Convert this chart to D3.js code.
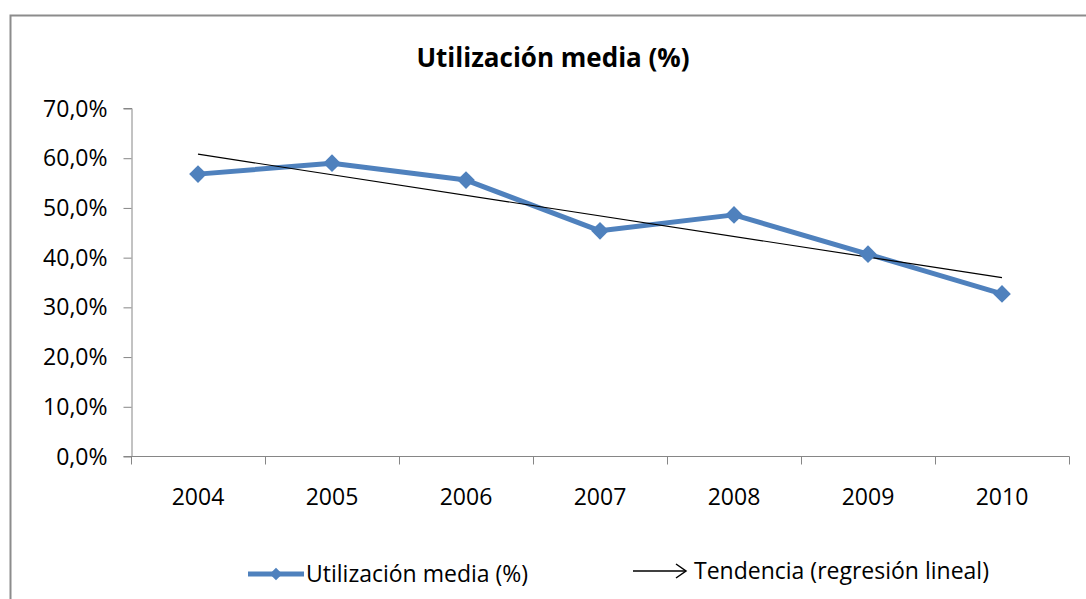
<!DOCTYPE html>
<html>
<head>
<meta charset="utf-8">
<script src="https://cdn.jsdelivr.net/npm/d3@7"></script>
<style>
  body { margin: 0; background: #fff; }
  text { font-family: "Open Sans", sans-serif; fill: #000; }
</style>
</head>
<body>
<div id="chart"></div>
<script>
// ---- data ----
var years = ["2004", "2005", "2006", "2007", "2008", "2009", "2010"];
var utilizacion = [0.567, 0.589, 0.555, 0.453, 0.485, 0.406, 0.326];
var yTicks = [0, 0.1, 0.2, 0.3, 0.4, 0.5, 0.6, 0.7];
var seriesName = "Utilización media (%)";
var trendName = "Tendencia (regresión lineal)";
var titleText = "Utilización media (%)";

var W = 1086, H = 599;
var blue = "#4f81bd", axisGrey = "#868686";

var svg = d3.select("#chart").append("svg")
  .attr("width", W).attr("height", H);

// chart frame (right / bottom edges are cut off in the original)
svg.append("rect")
  .attr("x", 10.5).attr("y", 15.5)
  .attr("width", W + 20).attr("height", H + 20)
  .attr("fill", "#fff").attr("stroke", "#8c8c8c").attr("stroke-width", 2);

svg.append("text")
  .attr("x", 553).attr("y", 67)
  .attr("text-anchor", "middle")
  .style("font-size", "26px").style("font-weight", "bold")
  .text(titleText);

var x = d3.scaleBand().domain(years).range([131, 1069]).padding(0);
var y = d3.scaleLinear().domain([0, 0.7]).range([456, 108]);
var cx = function(i) { return x(years[i]) + x.bandwidth() / 2; };

var fmt = function(d) { return d3.format(".1f")(d * 100).replace(".", ",") + "%"; };

// y axis
var yAxis = svg.append("g")
  .attr("transform", "translate(131.5,0)")
  .call(d3.axisLeft(y).tickValues(yTicks).tickFormat(fmt).tickSize(8).tickPadding(16));
yAxis.select(".domain").attr("stroke", axisGrey);
yAxis.selectAll(".tick line").attr("stroke", axisGrey).attr("transform", "translate(0,0.5)");
yAxis.selectAll(".tick text").style("font-size", "23px").attr("fill", "#000").attr("dy", "0.35em");

// x axis: ticks on category boundaries
var xAxis = svg.append("g")
  .attr("transform", "translate(0,456.5)")
  .call(d3.axisBottom(x).tickSize(0).tickPadding(32));
xAxis.select(".domain").attr("stroke", axisGrey).attr("d", "M131.5,0H1069.5V8");
xAxis.selectAll(".tick text").style("font-size", "23px").attr("fill", "#000");
xAxis.selectAll(".bound")
  .data(years)
  .enter().append("line")
  .attr("class", "bound")
  .attr("x1", function(d) { return Math.round(x(d)) + 0.5; })
  .attr("x2", function(d) { return Math.round(x(d)) + 0.5; })
  .attr("y1", 0).attr("y2", 8)
  .attr("stroke", axisGrey);

// linear regression trend
var n = utilizacion.length;
var mx = d3.mean(d3.range(n)), my = d3.mean(utilizacion);
var slope = d3.sum(d3.range(n), function(i) { return (i - mx) * (utilizacion[i] - my); }) /
            d3.sum(d3.range(n), function(i) { return (i - mx) * (i - mx); });
var icpt = my - slope * mx;

// series line
var line = d3.line()
  .x(function(d, i) { return cx(i); })
  .y(function(d) { return y(d); });

svg.append("path")
  .datum(utilizacion)
  .attr("d", line)
  .attr("fill", "none").attr("stroke", blue)
  .attr("stroke-width", 5).attr("stroke-linejoin", "round");

svg.append("line")
  .attr("x1", cx(0)).attr("y1", y(icpt))
  .attr("x2", cx(n - 1)).attr("y2", y(icpt + slope * (n - 1)))
  .attr("stroke", "#000").attr("stroke-width", 1.2);

var diamond = d3.symbol().type(d3.symbolDiamond2).size(200);
svg.selectAll(".pt")
  .data(utilizacion)
  .enter().append("path")
  .attr("class", "pt")
  .attr("transform", function(d, i) { return "translate(" + cx(i) + "," + y(d) + ")"; })
  .attr("d", diamond)
  .attr("fill", blue);

// legend
var lg = svg.append("g");
lg.append("line").attr("x1", 248).attr("x2", 304).attr("y1", 574).attr("y2", 574)
  .attr("stroke", blue).attr("stroke-width", 5);
lg.append("path").attr("transform", "translate(276,574)")
  .attr("d", d3.symbol().type(d3.symbolDiamond2).size(100)).attr("fill", blue);
lg.append("text").attr("x", 306).attr("y", 582).style("font-size", "23px").text(seriesName);

lg.append("line").attr("x1", 633).attr("x2", 685).attr("y1", 571).attr("y2", 571)
  .attr("stroke", "#000").attr("stroke-width", 1.5);
lg.append("path").attr("d", "M676,564L686,571L676,578")
  .attr("fill", "none").attr("stroke", "#000").attr("stroke-width", 1.5);
lg.append("text").attr("x", 694).attr("y", 579).style("font-size", "23px").text(trendName);
</script>
</body>
</html>
